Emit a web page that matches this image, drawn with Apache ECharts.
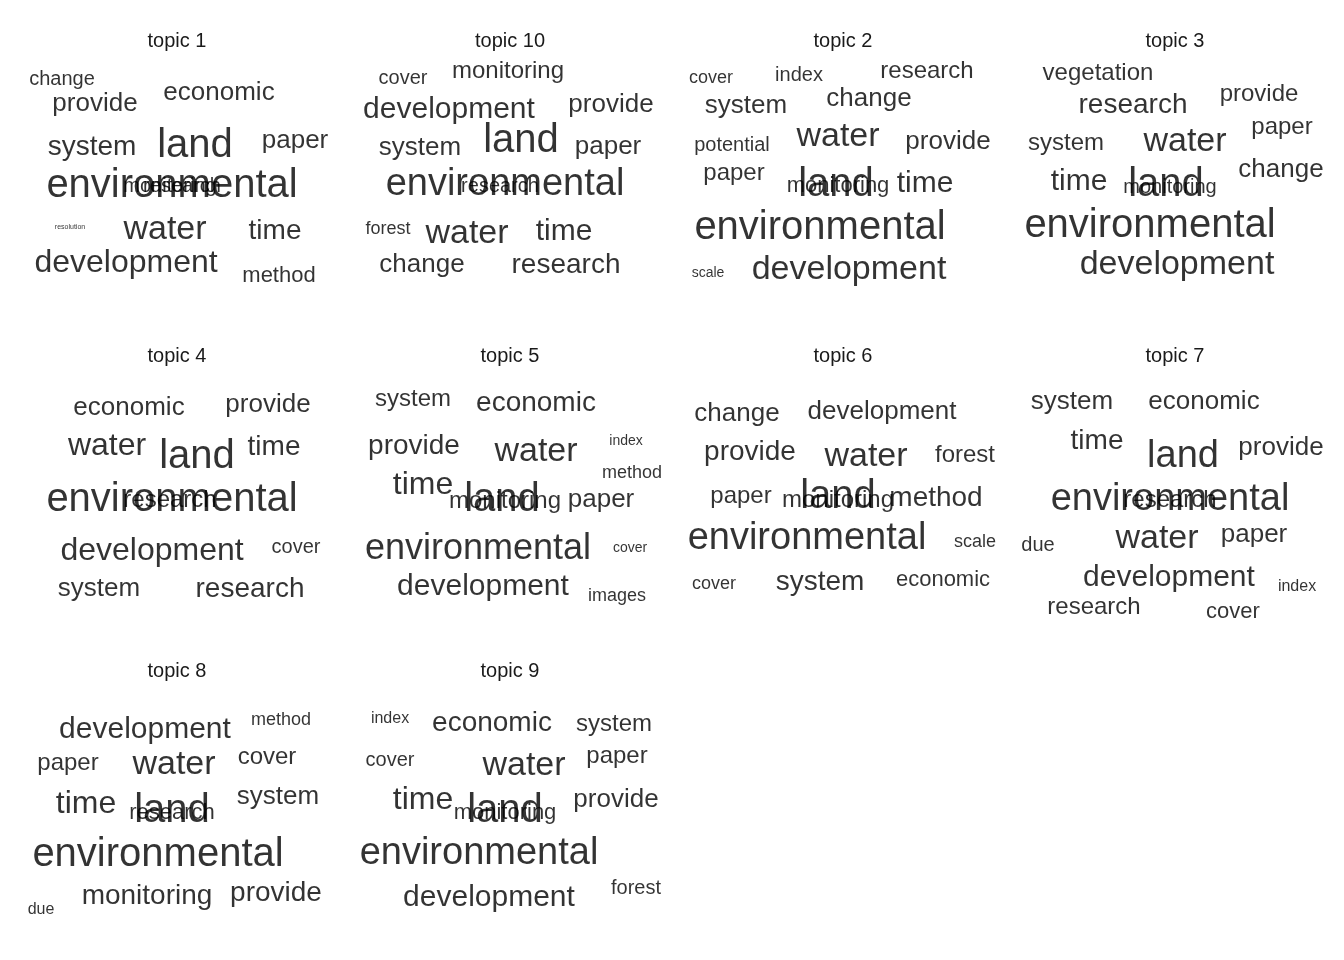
<!DOCTYPE html>
<html>
<head>
<meta charset="utf-8">
<title>topic word clouds</title>
<script src="https://cdn.jsdelivr.net/npm/echarts@6/dist/echarts.min.js"></script>
<style>
  html, body { margin: 0; padding: 0; background: #fff; }
  #chart { width: 1344px; height: 960px; }
</style>
</head>
<body>
<div id="chart"></div>
<script>
// word, x offset from panel centre, y offset below panel title, font size
var topic1 = [
  ['change', -110, 41, 20], ['economic', 47, 55, 26], ['provide', -77, 66, 26],
  ['system', -80, 109, 28], ['land', 23, 108, 40], ['paper', 123, 103, 26],
  ['environmental', 0, 148, 40], ['monitoring', -2, 148, 20], ['research', 10, 148, 20],
  ['resolution', -102, 189, 7], ['water', -7, 192, 34], ['time', 103, 193, 28],
  ['development', -46, 225, 32], ['method', 107, 238, 22]
];
var topic10 = [
  ['cover', -102, 40, 20], ['monitoring', 3, 33, 24], ['development', -56, 72, 30],
  ['provide', 106, 67, 26], ['system', -85, 110, 26], ['land', 16, 103, 40],
  ['paper', 103, 109, 26], ['environmental', 0, 147, 38], ['research', -5, 148, 20],
  ['forest', -117, 191, 18], ['water', -38, 196, 34], ['time', 59, 194, 30],
  ['change', -83, 227, 26], ['research', 61, 227, 28]
];
var topic2 = [
  ['cover', -127, 40, 18], ['index', -39, 37, 20], ['research', 89, 33, 24],
  ['system', -92, 68, 26], ['change', 31, 61, 26], ['potential', -106, 107, 20],
  ['water', 0, 99, 34], ['provide', 110, 104, 26], ['paper', -104, 135, 24],
  ['land', -2, 147, 40], ['monitoring', 0, 148, 22], ['time', 87, 146, 30],
  ['environmental', -18, 190, 40], ['scale', -130, 235, 14], ['development', 11, 232, 34]
];
var topic3 = [
  ['vegetation', -72, 35, 24], ['provide', 89, 56, 24], ['research', -37, 67, 28],
  ['paper', 112, 89, 24], ['system', -104, 105, 24], ['water', 15, 104, 34],
  ['change', 111, 132, 26], ['time', -91, 144, 30], ['land', -4, 147, 40],
  ['monitoring', 0, 149, 20], ['environmental', -20, 188, 40], ['development', 7, 227, 34]
];
var topic4 = [
  ['economic', -43, 55, 26], ['provide', 96, 52, 26], ['water', -65, 93, 32],
  ['land', 25, 104, 40], ['time', 102, 94, 28], ['environmental', 0, 147, 40],
  ['research', -2, 147, 24], ['development', -20, 198, 32], ['cover', 124, 194, 20],
  ['system', -73, 236, 26], ['research', 78, 236, 28]
];
var topic5 = [
  ['system', -92, 46, 24], ['economic', 31, 50, 28], ['provide', -91, 93, 28],
  ['water', 31, 99, 34], ['index', 121, 88, 14], ['method', 127, 120, 18],
  ['time', -82, 132, 32], ['land', -3, 147, 40], ['monitoring', 0, 148, 24],
  ['paper', 96, 147, 26], ['environmental', -27, 196, 36], ['cover', 125, 195, 14],
  ['development', -22, 234, 30], ['images', 112, 243, 18]
];
var topic6 = [
  ['change', -101, 61, 26], ['development', 44, 59, 26], ['provide', -88, 99, 28],
  ['water', 28, 104, 34], ['forest', 127, 102, 24], ['paper', -97, 143, 24],
  ['land', 0, 144, 40], ['monitoring', 0, 147, 24], ['method', 98, 145, 28],
  ['environmental', -31, 186, 38], ['scale', 137, 189, 18], ['cover', -124, 231, 18],
  ['system', -18, 229, 28], ['economic', 105, 227, 22]
];
var topic7 = [
  ['system', -98, 49, 26], ['economic', 34, 49, 26], ['time', -73, 88, 28],
  ['land', 13, 104, 38], ['provide', 111, 95, 26], ['environmental', 0, 147, 38],
  ['research', 0, 147, 24], ['due', -132, 192, 20], ['water', -13, 186, 34],
  ['paper', 84, 182, 26], ['development', -1, 225, 30], ['index', 127, 234, 16],
  ['research', -76, 254, 24], ['cover', 63, 259, 22]
];
var topic8 = [
  ['development', -27, 63, 30], ['method', 109, 53, 18], ['paper', -104, 98, 24],
  ['water', 2, 99, 34], ['cover', 95, 92, 24], ['time', -86, 140, 32],
  ['land', 0, 147, 40], ['research', 0, 149, 22], ['system', 106, 132, 26],
  ['environmental', -14, 192, 40], ['due', -131, 248, 16], ['monitoring', -25, 235, 28],
  ['provide', 104, 231, 28]
];
var topic9 = [
  ['index', -115, 52, 16], ['economic', -13, 57, 28], ['system', 109, 58, 24],
  ['cover', -115, 95, 20], ['water', 19, 100, 34], ['paper', 112, 91, 24],
  ['time', -82, 136, 32], ['land', 0, 147, 40], ['monitoring', 0, 149, 22],
  ['provide', 111, 135, 26], ['environmental', -26, 191, 38], ['development', -16, 236, 30],
  ['forest', 131, 227, 20]
];

var panelTitles = ['topic 1', 'topic 10', 'topic 2', 'topic 3', 'topic 4', 'topic 5', 'topic 6', 'topic 7', 'topic 8', 'topic 9'];
var panelWords = [topic1, topic10, topic2, topic3, topic4, topic5, topic6, topic7, topic8, topic9];
var colCentres = [172, 505, 838, 1170];
var rowTitles = [38, 353, 668];

var titles = [], grids = [], xAxes = [], yAxes = [], series = [];
panelWords.forEach(function (words, i) {
    var cx = colCentres[i % 4], ty = rowTitles[Math.floor(i / 4)];
    titles.push({
        text: panelTitles[i], left: cx, top: ty - 12, textAlign: 'center',
        textStyle: { fontFamily: 'Liberation Sans', fontSize: 20, fontWeight: 'normal', color: '#1a1a1a' }
    });
    grids.push({ left: cx - 166, top: ty, width: 332, height: 300 });
    xAxes.push({ gridIndex: i, type: 'value', min: -166, max: 166, show: false });
    yAxes.push({ gridIndex: i, type: 'value', min: 0, max: 300, inverse: true, show: false });
    series.push({
        type: 'scatter', xAxisIndex: i, yAxisIndex: i, symbolSize: 0, silent: true,
        data: words.map(function (w) {
            return { name: w[0], value: [w[1], w[2]], label: { fontSize: w[3] } };
        }),
        label: {
            show: true, position: 'inside', formatter: '{b}', color: '#000',
            fontFamily: 'Liberation Sans'
        }
    });
});

var chart = echarts.init(document.getElementById('chart'));
chart.setOption({
    animation: false,
    backgroundColor: '#fff',
    title: titles,
    grid: grids,
    xAxis: xAxes,
    yAxis: yAxes,
    series: series
});
window.onresize = function () { chart.resize(); };
</script>
</body>
</html>
